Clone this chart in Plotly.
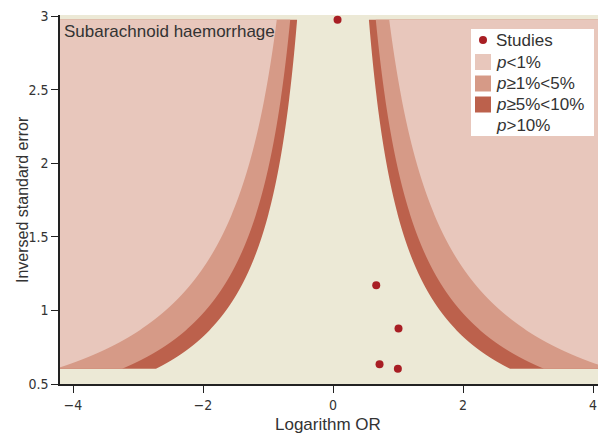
import numpy as np
import plotly.graph_objects as go

# Study data (log OR, inverse standard error)
study_logor = [0.07, 0.665, 1.008, 0.716, 0.998]
study_inv_se = [2.978, 1.171, 0.877, 0.634, 0.604]

# Contour levels (two-sided z critical values) and labels
z_levels = [1.645, 1.96, 2.576]
region_labels = ["<i>p</i>≥5%&lt;10%", "<i>p</i>≥1%&lt;5%", "<i>p</i>&lt;1%"]
region_colors = ["#BC614C", "#D69A87", "#E8C7BC"]
bg_color = "#ECE9D6"
point_color = "#A81E24"

x_ticks = [-4, -2, 0, 2, 4]
x_tick_text = ["\u22124", "\u22122", "0", "2", "4"]
y_ticks = [0.5, 1, 1.5, 2, 2.5, 3]
y_tick_text = ["0.5", "1", "1.5", "2", "2.5", "3"]

# page body has an 8px margin; lay the figure out in window pixels
OFF = 8
WIN_W, WIN_H = 606, 436
W, H = WIN_W - OFF, WIN_H - OFF
P_LEFT, P_RIGHT, P_TOP, P_BOTTOM = 60, 606, 15, 384  # plot area in window px
ML, MR = P_LEFT - OFF, W - (P_RIGHT - OFF)
MT, MB = P_TOP - OFF, H - (P_BOTTOM - OFF)
PW, PH = P_RIGHT - P_LEFT, P_BOTTOM - P_TOP


def px(x):
    return (x - P_LEFT) / PW


def py(y):
    return (P_BOTTOM - y) / PH


ymin, ymax = min(study_inv_se), max(study_inv_se)
yy = np.linspace(ymin, ymax, 200)
FAR = 20

fig = go.Figure()

for z, col in zip(z_levels, region_colors):
    xl = [-FAR, -FAR] + list(-z / yy[::-1]) + [-FAR]
    yl = [ymin, ymax] + list(yy[::-1]) + [ymin]
    fig.add_trace(go.Scatter(x=xl, y=yl, fill="toself", fillcolor=col, mode="none",
                             showlegend=False, hoverinfo="skip"))
    xr = [FAR, FAR] + list(z / yy[::-1]) + [FAR]
    fig.add_trace(go.Scatter(x=xr, y=yl, fill="toself", fillcolor=col, mode="none",
                             showlegend=False, hoverinfo="skip"))

fig.add_trace(go.Scatter(x=study_logor, y=study_inv_se, mode="markers",
                         marker=dict(color=point_color, size=8),
                         name="Studies", showlegend=False))

font_main = "Liberation Sans, Arial, sans-serif"
font_tick = "Liberation Sans Narrow, DejaVu Sans Condensed, Liberation Sans, sans-serif"
txt_col = "#333333"

# manual legend
shapes = [dict(type="rect", xref="paper", yref="paper",
               x0=px(471), x1=px(594), y0=py(136), y1=py(29),
               fillcolor="white", line=dict(width=0), layer="above")]
shapes.append(dict(type="circle", xref="paper", yref="paper",
                   x0=px(479), x1=px(487), y0=py(44), y1=py(36),
                   fillcolor=point_color, line=dict(width=0), layer="above"))
legend_rows = [40, 62, 83.5, 104.5, 126]
legend_text = ["Studies"] + region_labels[::-1] + ["<i>p</i>&gt;10%"]
legend_cols = [None] + region_colors[::-1] + [None]
annotations = []
for yc, lab, col in zip(legend_rows, legend_text, legend_cols):
    if col is not None:
        shapes.append(dict(type="rect", xref="paper", yref="paper",
                           x0=px(475), x1=px(491), y0=py(yc + 8), y1=py(yc - 8),
                           fillcolor=col, line=dict(width=0), layer="above"))
    annotations.append(dict(text=lab, xref="paper", yref="paper", x=px(494), y=py(yc),
                            xanchor="left", yanchor="middle", showarrow=False,
                            font=dict(size=17, color=txt_col)))

annotations += [
    dict(text="Subarachnoid haemorrhage", xref="paper", yref="paper",
         x=px(62), y=py(31), xanchor="left", yanchor="middle", showarrow=False,
         font=dict(size=17, color=txt_col)),
    dict(text="Logarithm OR", xref="paper", yref="paper",
         x=px(328), y=py(424), xanchor="center", yanchor="middle", showarrow=False,
         font=dict(size=17, color=txt_col)),
    dict(text="Inversed standard error", xref="paper", yref="paper",
         x=px(23), y=py(200), xanchor="center", yanchor="middle", showarrow=False,
         textangle=-90, font=dict(size=16, color=txt_col)),
]

fig.update_layout(
    width=W, height=H,
    margin=dict(l=ML, r=MR, t=MT, b=MB, pad=0),
    paper_bgcolor="white",
    plot_bgcolor=bg_color,
    font=dict(family=font_main, size=16, color=txt_col),
    showlegend=False,
    xaxis=dict(range=[-4.2, 4.2], tickvals=x_ticks, ticktext=x_tick_text,
               showgrid=False, zeroline=False, showline=True, linecolor="#222",
               linewidth=1.5, ticks="outside", ticklen=7, tickcolor="#222",
               automargin=False,
               tickfont=dict(family=font_tick, size=14, color=txt_col)),
    yaxis=dict(range=[0.5, 3.01], tickvals=y_ticks, ticktext=y_tick_text,
               showgrid=False, zeroline=False, showline=True, linecolor="#222",
               linewidth=1.5, ticks="outside", ticklen=7, tickcolor="#222",
               automargin=False,
               tickfont=dict(family=font_tick, size=14, color=txt_col)),
    shapes=shapes,
    annotations=annotations,
)

fig.write_html("out.html")
